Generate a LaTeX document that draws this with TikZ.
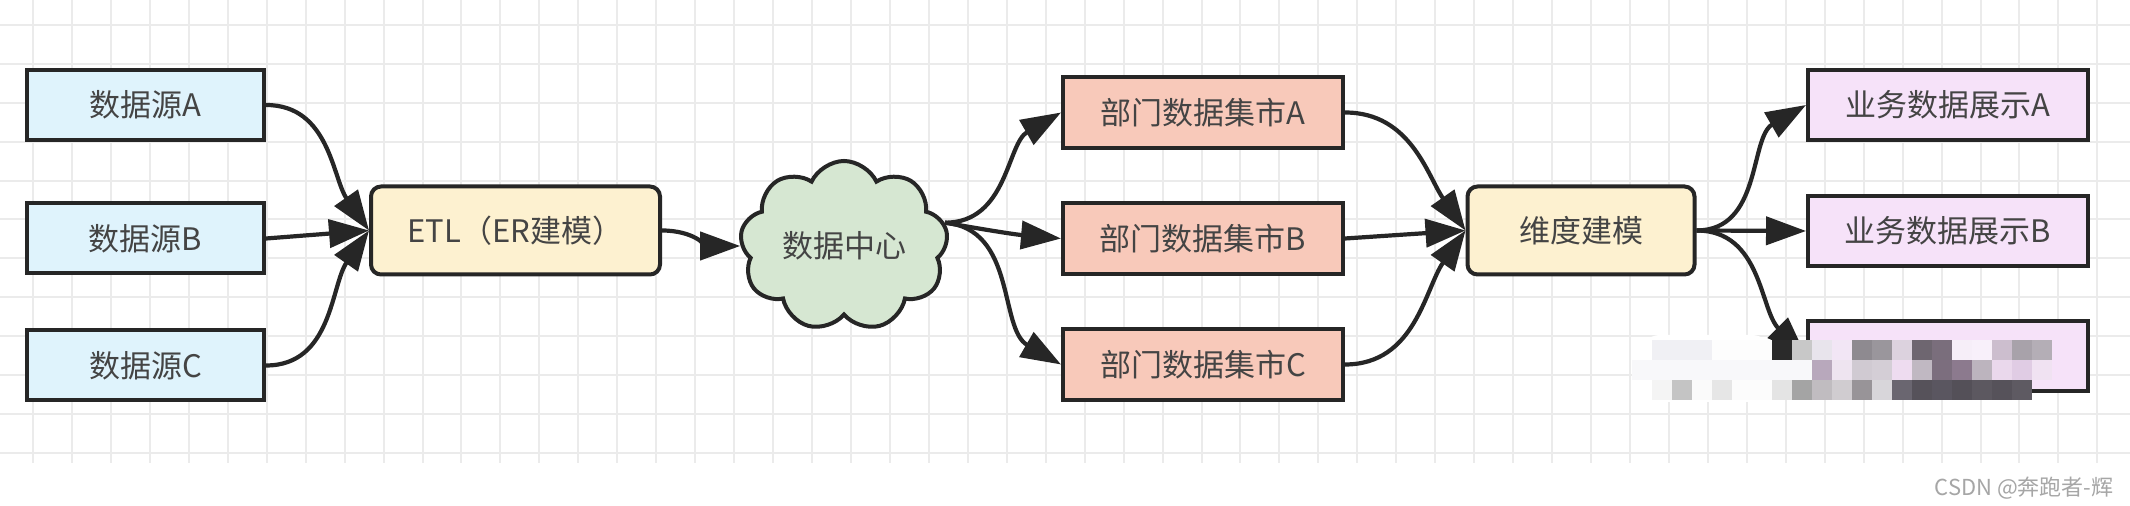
\documentclass[tikz,border=0pt]{standalone}
\usepackage{fontspec}
\setmainfont{Noto Sans CJK SC}
\usetikzlibrary{arrows.meta,shapes.symbols}
\definecolor{srcfill}{HTML}{DFF3FC}
\definecolor{etlfill}{HTML}{FDF1D0}
\definecolor{cloudfill}{HTML}{D6E7D2}
\definecolor{deptfill}{HTML}{F8C9BA}
\definecolor{bizfill}{HTML}{F6E2F9}
\definecolor{edgec}{HTML}{262626}
\definecolor{txt}{HTML}{444444}
\definecolor{gridc}{HTML}{EBEBEB}
\definecolor{wm}{HTML}{A6A6A6}
\newcommand{\mb}[3]{\definecolor{mbc}{HTML}{#3}\fill[mbc] ({1631.7+20*#1},{#2}) rectangle ++(20,20);}
\begin{document}
\begin{tikzpicture}[x=0.5pt,y=-0.5pt,
  box/.style={draw=edgec, line width=2pt, text=txt, font=\fontsize{15.5pt}{18pt}\selectfont, inner sep=0pt},
  srcbox/.style={box, fill=srcfill, minimum width=118.5pt, minimum height=35pt},
  procbox/.style={box, fill=etlfill, rounded corners=5pt, minimum height=44pt},
  deptbox/.style={box, fill=deptfill, minimum width=140pt, minimum height=35.5pt},
  bizbox/.style={box, fill=bizfill, minimum width=140pt, minimum height=35pt},
  conn/.style={draw=edgec, line width=2.1pt, -{Triangle[length=20pt,width=14pt]}},
]
\useasboundingbox (0,0) rectangle (2130,506);
\fill[white] (0,0) rectangle (2130,506);
% grid
\foreach \k in {0,...,53} {\draw[gridc, line width=1pt] ({33+38.95*\k},0) -- ({33+38.95*\k},463);}
\foreach \k in {0,...,11} {\draw[gridc, line width=1pt] (0,{25+38.9*\k}) -- (2130,{25+38.9*\k});}

% nodes
\node[srcbox] (srcA) at (145.5,105) {数据源A};
\node[srcbox] (srcB) at (145.5,238.5) {数据源B};
\node[srcbox] (srcC) at (145.5,365.5) {数据源C};
\node[procbox, minimum width=144.5pt] (etl) at (515.5,230.5) {ETL（ER建模）};
\node[cloud, cloud puffs=9, cloud puff arc=130, aspect=1.25, draw=edgec, fill=cloudfill, line width=2pt,
      minimum width=104pt, minimum height=78pt, text=txt, font=\fontsize{15.5pt}{18pt}\selectfont, inner sep=0pt] (cloud) at (844,246) {数据中心};
\node[deptbox] (deptA) at (1203,112.5) {部门数据集市A};
\node[deptbox] (deptB) at (1203,238.5) {部门数据集市B};
\node[deptbox] (deptC) at (1203,364.5) {部门数据集市C};
\node[procbox, minimum width=113.5pt] (dim) at (1581,230.5) {维度建模};
\node[bizbox] (bizA) at (1948,105) {业务数据展示A};
\node[bizbox] (bizB) at (1948,231) {业务数据展示B};
\node[bizbox] (bizC) at (1948,356) {};

% connectors
\draw[conn] (srcA.east) to[out=0,in=125] (etl.west);
\draw[conn] (srcB.east) -- (etl.west);
\draw[conn] (srcC.east) to[out=0,in=-125] (etl.west);
\draw[conn] (etl.east) to[out=0,in=180] (cloud.west);
\draw[conn] (cloud.13) to[out=0,in=-150] (deptA.west);
\draw[conn] (cloud.13) to[out=-10,in=175] (deptB.west);
\draw[conn] (cloud.13) to[out=-5,in=150] (deptC.west);
\draw[conn] (deptA.east) to[out=0,in=125] (dim.west);
\draw[conn] (deptB.east) -- (dim.west);
\draw[conn] (deptC.east) to[out=0,in=-125] (dim.west);
\draw[conn] (dim.east) to[out=0,in=-150] (bizA.west);
\draw[conn] (dim.east) -- (bizB.west);
\draw[conn] (dim.east) to[out=0,in=135] (bizC.west);

% mosaic watermark
\fill[white, rounded corners=10pt] (1640,335) rectangle (1772,402);
\mb{1}{340}{F0F0F4}\mb{2}{340}{F0F0F4}\mb{3}{340}{F0F0F4}
\mb{4}{340}{FDFDFD}\mb{5}{340}{FDFDFD}\mb{6}{340}{FDFDFD}
\mb{7}{340}{2A2A2A}\mb{8}{340}{C8C8C8}\mb{9}{340}{E8E4EC}\mb{10}{340}{F2E6F5}
\mb{11}{340}{8E8A90}\mb{12}{340}{9A969C}\mb{13}{340}{DCD2DE}\mb{14}{340}{6E6670}
\mb{15}{340}{7A6E7C}\mb{16}{340}{F6EEF8}\mb{17}{340}{F8F0FA}\mb{18}{340}{CCBECE}
\mb{19}{340}{A8A2AA}\mb{20}{340}{B4AEB6}
\foreach \k in {0,...,8} {\mb{\k}{360}{F8F8FA}}
\mb{9}{360}{B8A8BC}\mb{10}{360}{EEE4F0}\mb{11}{360}{D0CAD2}\mb{12}{360}{D4CED6}
\mb{13}{360}{EEDCF0}\mb{14}{360}{C0B8C2}\mb{15}{360}{7C6E7E}\mb{16}{360}{8C7A8E}
\mb{17}{360}{BCB4BE}\mb{18}{360}{EAD8EC}\mb{19}{360}{E0CCE4}\mb{20}{360}{F0E2F2}
\mb{1}{380}{F4F4F4}\mb{2}{380}{C4C4C4}\mb{3}{380}{FAFAFA}\mb{4}{380}{E6E6E6}
\mb{5}{380}{FCFCFC}\mb{6}{380}{FCFCFC}\mb{7}{380}{E4E4E4}\mb{8}{380}{A4A4A4}
\mb{9}{380}{C0BCC0}\mb{10}{380}{D0CCD0}\mb{11}{380}{989498}\mb{12}{380}{D8D6DA}
\mb{13}{380}{6A6670}\mb{14}{380}{56525A}\mb{15}{380}{5A5660}\mb{16}{380}{545058}
\mb{17}{380}{5C5860}\mb{18}{380}{56525A}\mb{19}{380}{5E5A62}

\node[font=\fontsize{11pt}{13pt}\selectfont, text=wm, anchor=east, inner sep=0pt] (wmark) at (2114,488) {CSDN @奔跑者-辉};
\end{tikzpicture}
\end{document}
